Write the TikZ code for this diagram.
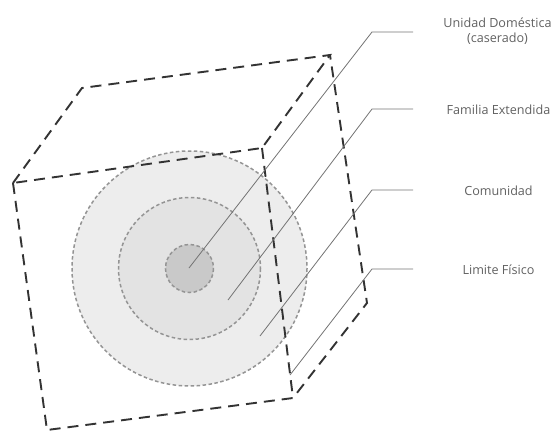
\documentclass[tikz,border=0pt]{standalone}
\usepackage{fontspec}
\setmainfont{Open Sans}
\begin{document}
\begin{tikzpicture}[x=1pt,y=-1pt,
  cubeedge/.style={draw=black!80, line width=1.9pt, dash pattern=on 11pt off 7pt},
  ring/.style={draw=black!42, line width=1.5pt, dash pattern=on 3.5pt off 2.5pt},
  leader/.style={draw=black!55, line width=0.8pt},
  lbl/.style={text=black!62, font=\fontsize{12.6}{15}\selectfont, align=center, inner sep=0pt, anchor=base}]
\useasboundingbox (0,0) rectangle (554,431);
% rings
\coordinate (c) at (189.5,268.5);
\fill[black!7] (c) circle (117.5);
\fill[black!11] (c) circle (71);
\fill[black!21] (c) circle (24);
\draw[ring] (c) circle (117.5);
\draw[ring] (c) circle (71);
\draw[ring] (c) circle (24);
% cube
\coordinate (tbl) at (82,88);
\coordinate (tbr) at (330,55);
\coordinate (tfr) at (262,148);
\coordinate (tfl) at (13,183);
\coordinate (bfl) at (47,430);
\coordinate (bfr) at (293,398);
\coordinate (bbr) at (367,303);
\draw[cubeedge] (tfl) -- (tbl) -- (tbr) -- (tfr) -- cycle;
\draw[cubeedge] (tfl) -- (bfl) -- (bfr) -- (bbr) -- (tbr);
\draw[cubeedge] (tfr) -- (bfr);
% labels
\node[lbl] (l1) at (497.5,42) {Unidad Doméstica\\(caserado)};
\node[lbl] (l2) at (498.5,114.5) {Familia Extendida};
\node[lbl] (l3) at (498.5,195) {Comunidad};
\node[lbl] (l4) at (498.5,274) {Limite Físico};
% leaders
\coordinate (s1) at (189,268);
\coordinate (k1) at (372,32);
\coordinate (e1) at (413,32);
\coordinate (s2) at (228,300);
\coordinate (k2) at (372,109);
\coordinate (e2) at (413,109);
\coordinate (s3) at (260,336);
\coordinate (k3) at (372,190);
\coordinate (e3) at (413,190);
\coordinate (s4) at (290,375);
\coordinate (k4) at (372,269);
\coordinate (e4) at (413,269);
\draw[leader] (s1) -- (k1) -- (e1);
\draw[leader] (s2) -- (k2) -- (e2);
\draw[leader] (s3) -- (k3) -- (e3);
\draw[leader] (s4) -- (k4) -- (e4);
\end{tikzpicture}
\end{document}
